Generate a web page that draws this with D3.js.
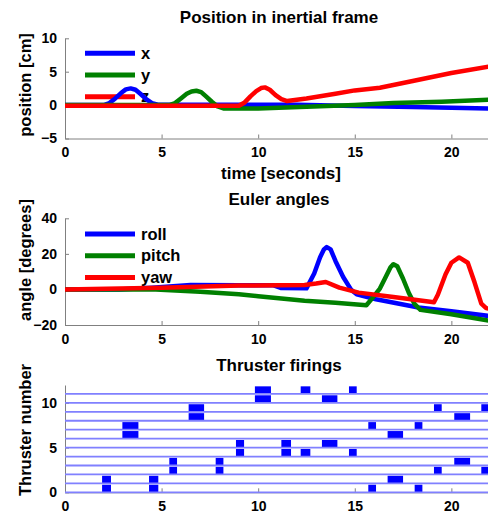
<!DOCTYPE html>
<html><head><meta charset="utf-8">
<script src="https://cdn.jsdelivr.net/npm/d3@7"></script>
<style>
body{margin:0;background:#fff}
svg{display:block}
text{font-family:"Liberation Sans",Arial,sans-serif;font-weight:bold;fill:#000}
</style>
</head><body>
<svg id="c" width="488" height="512"></svg>
<script>
// ---------- data ----------
const xTicks = [0, 5, 10, 15, 20];

// Position in inertial frame [cm]
const posXT = [0, 2.0, 2.3, 2.6, 2.9, 3.15, 3.4, 3.65, 3.9, 4.2, 4.5, 4.8, 9, 12, 15, 18, 20, 22];
const posXV = [0, 0, 0.3, 1.0, 1.8, 2.35, 2.5, 2.3, 1.7, 0.9, 0.3, 0.05, 0.05, 0.05, -0.15, -0.3, -0.4, -0.5];
const posYT = [0, 5.4, 5.7, 6.0, 6.3, 6.55, 6.8, 7.05, 7.3, 7.6, 7.9, 8.2, 10, 12.5, 15, 17, 19.5, 22];
const posYV = [0, 0, 0.3, 1.0, 1.7, 2.05, 2.15, 1.95, 1.3, 0.5, -0.2, -0.5, -0.5, -0.25, 0, 0.3, 0.5, 0.8];
const posZT = [0, 9.0, 9.3, 9.6, 9.9, 10.15, 10.35, 10.6, 10.9, 11.2, 11.5, 12.5, 14, 15, 16.3, 18, 20, 22];
const posZV = [-0.1, -0.1, 0.4, 1.3, 2.1, 2.55, 2.65, 2.3, 1.5, 0.9, 0.6, 1.0, 1.7, 2.2, 2.6, 3.6, 4.8, 5.8];
const posNames = ["x", "y", "z"];
const posTicks = [-5, 0, 5, 10];

// Euler angles [degrees]
const rollT = [0, 2.8, 4.5, 6.5, 9, 10.8, 11.2, 12.5, 12.9, 13.2, 13.4, 13.55, 13.75, 14.0, 14.4, 14.8, 15.1, 16.1, 18.3, 20, 22];
const rollV = [0, 0, 1.0, 2.5, 2.4, 2.3, 0.8, 0.6, 9, 18, 22.5, 23.8, 22.5, 16, 7, 0, -2.8, -5.5, -10.2, -12.3, -15];
const pitchT = [0, 4.7, 7, 9, 10, 12.4, 14, 15.6, 15.9, 16.3, 16.6, 16.85, 17.0, 17.2, 17.5, 17.8, 18.1, 18.4, 20, 22];
const pitchV = [0, 0, -1.3, -2.7, -3.8, -6.3, -7.5, -8.9, -5, 0.5, 7, 12.5, 14.2, 13, 6, -2, -8.3, -11.5, -14, -17.7];
const yawT = [0, 5, 9, 12.4, 13.0, 13.5, 14.2, 15.2, 17, 19.1, 19.3, 19.7, 20.0, 20.4, 20.85, 21.2, 21.55, 21.8, 22];
const yawV = [0, 1.0, 2.2, 2.5, 3.3, 4.2, 1.0, -1.8, -4.3, -7.2, -3, 8.5, 15, 18, 15, 4, -8, -10.5, -11];
const eulerNames = ["roll", "pitch", "yaw"];
const angTicks = [-20, 0, 20, 40];

// Thruster firings: two thrusters per pulse
const fireStart = [1.92, 2.97, 4.35, 5.4, 6.4, 7.8, 8.85, 9.83, 11.2, 12.2, 13.3, 14.7, 15.7, 16.7, 18.1, 19.1, 20.15, 21.55];
const fireEnd   = [2.38, 3.8, 4.83, 5.8, 7.2, 8.2, 9.27, 10.66, 11.7, 12.7, 14.1, 15.1, 16.1, 17.5, 18.5, 19.5, 20.97, 22.1];
const fireThrA  = [0, 6, 0, 2, 8, 2, 4, 10, 4, 11, 10, 11, 7, 6, 7, 9, 8, 9];
const fireThrB  = [1, 7, 1, 3, 9, 3, 5, 11, 5, 4, 5, 4, 0, 1, 0, 2, 3, 2];
const thrusters = [0, 1, 2, 3, 4, 5, 6, 7, 8, 9, 10, 11];
const thrTicks = [0, 5, 10];

// ---------- drawing ----------
const svg = d3.select("#c");
const AX = "#808080";
const colors = ["#0000ff", "#008000", "#ff0000"];
const x = d3.scaleLinear().domain([0, 22]).range([65, 490]);

function axes(y, yTicks, title, titleY, ylabel, ylabelY) {
  const g = svg.append("g");
  const ya = g.append("g").attr("transform", "translate(65,0)")
    .call(d3.axisLeft(y).tickValues(yTicks).tickSizeInner(-4).tickSizeOuter(0).tickPadding(8));
  const xa = g.append("g").attr("transform", `translate(0,${y.range()[0]})`)
    .call(d3.axisBottom(x).tickValues(xTicks).tickSizeInner(-4).tickSizeOuter(0).tickPadding(9));
  [ya, xa].forEach(a => {
    a.select(".domain").attr("stroke", AX).attr("stroke-width", 1);
    a.selectAll(".tick line").attr("stroke", AX);
    a.selectAll("text").attr("font-size", 14).attr("font-family", "Liberation Sans, Arial, sans-serif").attr("font-weight", "bold").attr("fill", "#000");
  });
  svg.append("text").attr("x", 279).attr("y", titleY).attr("text-anchor", "middle")
    .attr("font-size", 17).text(title);
  svg.append("text").attr("transform", `translate(31,${ylabelY}) rotate(-90)`)
    .attr("text-anchor", "middle").attr("font-size", 16.5).text(ylabel);
}

function legend(names, x0, y0, dy) {
  names.forEach((n, i) => {
    svg.append("line").attr("x1", x0).attr("x2", x0 + 50)
      .attr("y1", y0 + i * dy).attr("y2", y0 + i * dy)
      .attr("stroke", colors[i]).attr("stroke-width", 5);
    svg.append("text").attr("x", x0 + 56).attr("y", y0 + i * dy + 5.5)
      .attr("font-size", 16.5).text(n);
  });
}

function series(y, ts, vs) {
  ts.forEach((t, i) => {
    const pts = t.map((tt, j) => [tt, vs[i][j]]);
    svg.append("path").datum(pts)
      .attr("fill", "none").attr("stroke", colors[i]).attr("stroke-width", 4.5)
      .attr("stroke-linejoin", "round").attr("stroke-linecap", "butt")
      .attr("d", d3.line().x(d => x(d[0])).y(d => y(d[1])));
  });
}

// Panel 1
const y1 = d3.scaleLinear().domain([-5, 10]).range([138.5, 38.3]);
axes(y1, posTicks, "Position in inertial frame", 23, "position [cm]", 85);
svg.append("text").attr("x", 281).attr("y", 179).attr("text-anchor", "middle")
  .attr("font-size", 17).text("time [seconds]");
legend(posNames, 85, 53.3, 21.7);
series(y1, [posXT, posYT, posZT], [posXV, posYV, posZV]);

// Panel 2
const y2 = d3.scaleLinear().domain([-20, 40]).range([325, 218.3]);
axes(y2, angTicks, "Euler angles", 205, "angle [degrees]", 260);
legend(eulerNames, 85, 234, 21.7);
series(y2, [rollT, pitchT, yawT], [rollV, pitchV, yawV]);

// Panel 3
const y3 = d3.scaleLinear().domain([0, 12]).range([492.3, 385]);
axes(y3, thrTicks, "Thruster firings", 371, "Thruster number", 430);
const pulses = fireStart.map((s, i) => ({s, e: fireEnd[i], thr: [fireThrA[i], fireThrB[i]]}));
pulses.forEach(p => p.thr.forEach(k => {
  svg.append("rect").attr("x", x(p.s)).attr("width", x(p.e) - x(p.s))
    .attr("y", y3(k + 0.85)).attr("height", y3(k) - y3(k + 0.85))
    .attr("fill", "#0000ff");
}));
svg.append("g").selectAll("line").data(thrusters).join("line")
  .attr("x1", x(0)).attr("x2", x(22)).attr("y1", d => y3(d)).attr("y2", d => y3(d))
  .attr("stroke", "#8080ff").attr("stroke-width", 1.8);
</script>
</body></html>
